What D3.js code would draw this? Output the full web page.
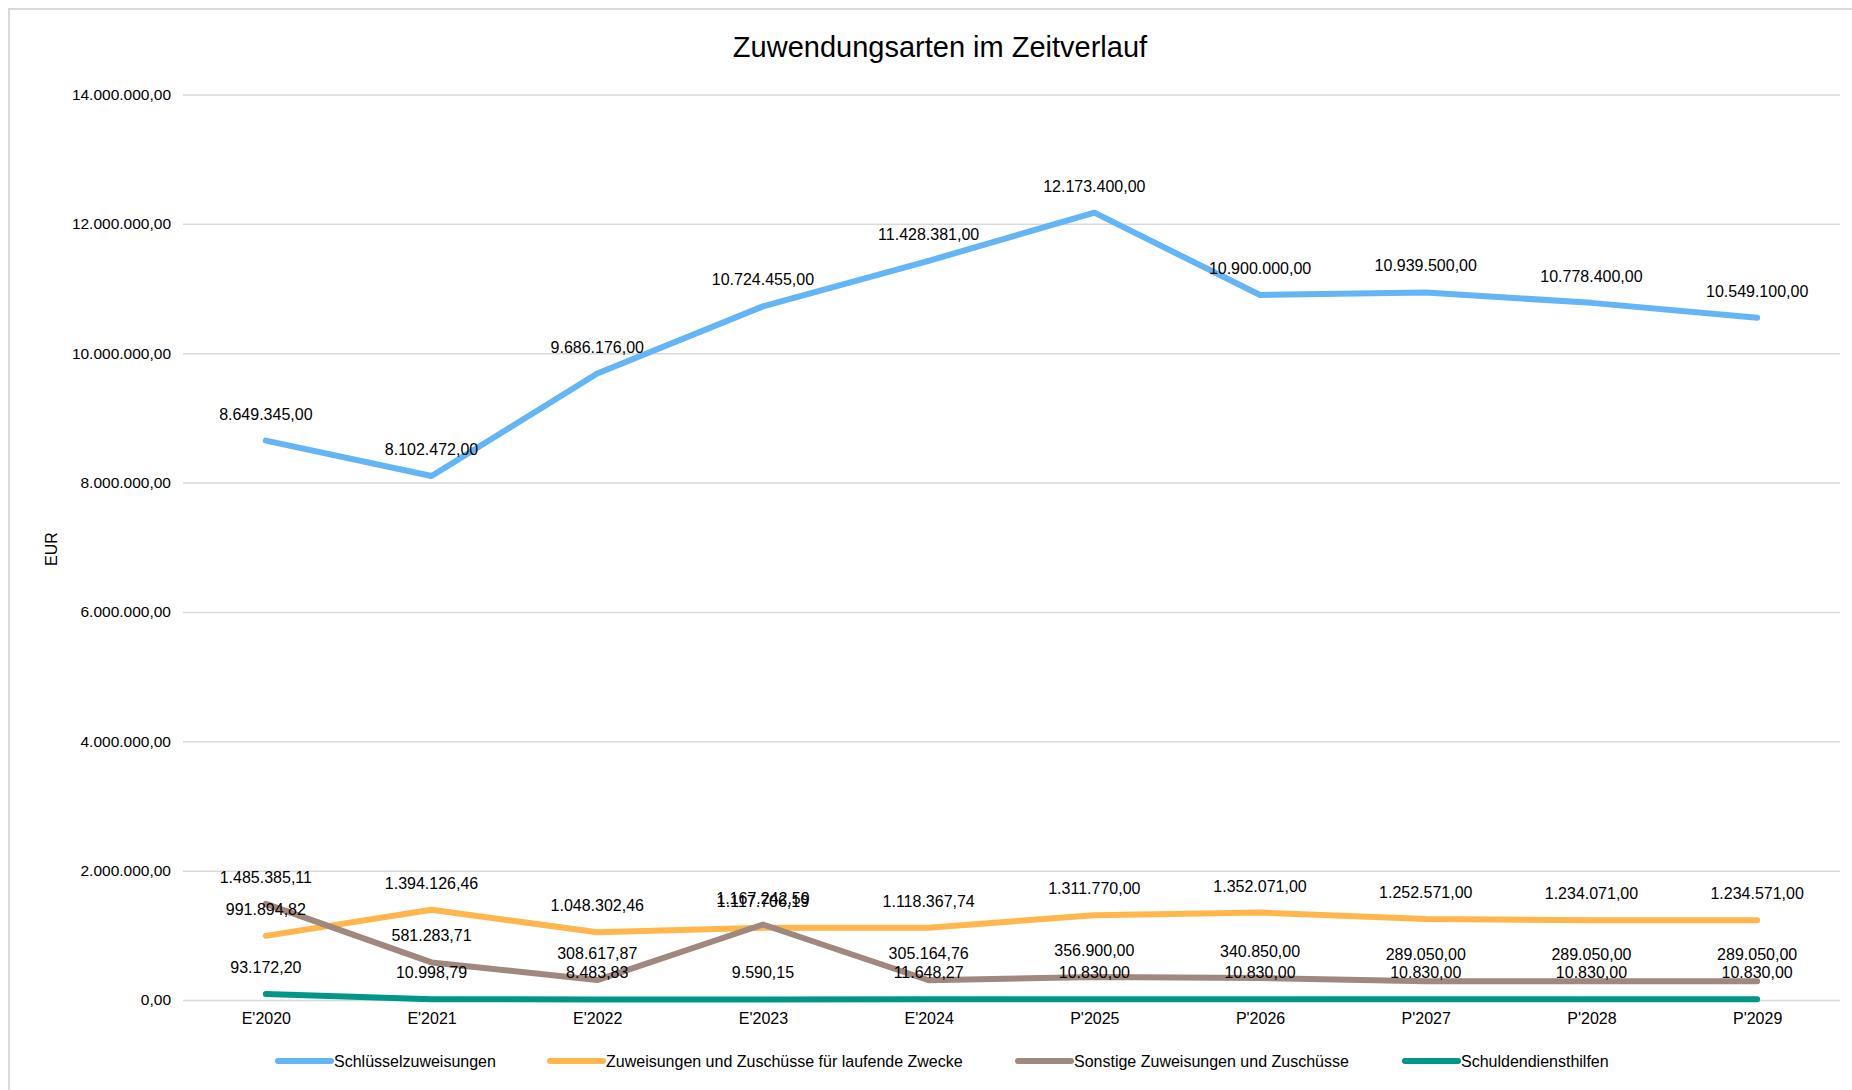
<!DOCTYPE html>
<html>
<head>
<meta charset="utf-8">
<script src="https://cdn.jsdelivr.net/npm/d3@7"></script>
<style>
  body { margin: 0; background: #fff; }
  text { font-family: "Liberation Sans", Arial, sans-serif; fill: #000; }
</style>
</head>
<body>
<div class="chart"></div>
<script>
// categories and series
const categories = ["E'2020", "E'2021", "E'2022", "E'2023", "E'2024", "P'2025", "P'2026", "P'2027", "P'2028", "P'2029"];
const seriesNames = ["Schlüsselzuweisungen", "Zuweisungen und Zuschüsse für laufende Zwecke", "Sonstige Zuweisungen und Zuschüsse", "Schuldendiensthilfen"];
const schluessel = [8649345.00, 8102472.00, 9686176.00, 10724455.00, 11428381.00, 12173400.00, 10900000.00, 10939500.00, 10778400.00, 10549100.00];
const laufend = [991894.82, 1394126.46, 1048302.46, 1117706.19, 1118367.74, 1311770.00, 1352071.00, 1252571.00, 1234071.00, 1234571.00];
const sonstige = [1485385.11, 581283.71, 308617.87, 1167242.59, 305164.76, 356900.00, 340850.00, 289050.00, 289050.00, 289050.00];
const schulden = [93172.20, 10998.79, 8483.83, 9590.15, 11648.27, 10830.00, 10830.00, 10830.00, 10830.00, 10830.00];
const yTicks = [0, 2000000, 4000000, 6000000, 8000000, 10000000, 12000000, 14000000];
const colors = ["#64B5F6", "#FFB74D", "#A1887F", "#009688"];

const allSeries = [schluessel, laufend, sonstige, schulden];

const W = 1852, H = 1090;
const margin = ({top: 94.5, right: 12, bottom: 90, left: 183});

const svg = d3.select(".chart").append("svg")
    .attr("width", W).attr("height", H);

// outer frame
svg.append("rect")
    .attr("x", 9).attr("y", 9)
    .attr("width", 1870).attr("height", 1100)
    .attr("fill", "none")
    .attr("stroke", "#d9d9d9")
    .attr("stroke-width", 2);

const xScale = d3.scalePoint()
    .domain(categories)
    .range([margin.left, W - margin.right])
    .padding(0.5);

const yScale = d3.scaleLinear()
    .domain([0, 14000000])
    .range([H - margin.bottom, margin.top]);

const fmt = d3.formatLocale({decimal: ",", thousands: ".", grouping: [3], currency: ["", "€"]}).format(",.2f");

// gridlines + y ticks
const yAxis = d3.axisLeft(yScale)
    .tickValues(yTicks)
    .tickSize(-(W - margin.right - margin.left))
    .tickPadding(12)
    .tickFormat(fmt);

const gy = svg.append("g")
    .attr("transform", `translate(${margin.left},0)`)
    .call(yAxis);
gy.select(".domain").remove();
gy.selectAll(".tick line").attr("stroke", "#d9d9d9").attr("stroke-width", 1.5);
gy.selectAll(".tick text").attr("font-size", 15.5).attr("fill", "#000");

// x axis labels
const xAxis = d3.axisBottom(xScale).tickSize(0).tickPadding(13);
const gx = svg.append("g")
    .attr("transform", `translate(0,${H - margin.bottom})`)
    .call(xAxis);
gx.select(".domain").remove();
gx.selectAll(".tick text").attr("font-size", 16).attr("fill", "#000");

// lines
const line = d3.line()
    .x((d, i) => xScale(categories[i]))
    .y(d => yScale(d));

allSeries.forEach((s, k) => {
    svg.append("path")
        .datum(s)
        .attr("d", line)
        .attr("fill", "none")
        .attr("stroke", colors[k])
        .attr("stroke-width", 6)
        .attr("stroke-linecap", "round")
        .attr("stroke-linejoin", "round");
});

// data labels
allSeries.forEach((s, k) => {
    svg.append("g").selectAll("text")
        .data(s)
        .enter()
        .append("text")
        .attr("x", (d, i) => xScale(categories[i]))
        .attr("y", d => yScale(d) - 21)
        .attr("text-anchor", "middle")
        .attr("font-size", 16)
        .text(d => fmt(d));
});

// title
svg.append("text")
    .attr("x", 940).attr("y", 57)
    .attr("text-anchor", "middle")
    .attr("font-size", 29)
    .text("Zuwendungsarten im Zeitverlauf");

// y label
svg.append("text")
    .attr("transform", "translate(57,549) rotate(-90)")
    .attr("text-anchor", "middle")
    .attr("font-size", 16)
    .text("EUR");

// legend
const legendX = [278, 550, 1018, 1405];
const lg = svg.append("g").selectAll("g")
    .data(seriesNames)
    .enter()
    .append("g")
    .attr("transform", (d, i) => `translate(${legendX[i]},1061)`);
lg.append("line")
    .attr("x1", 0).attr("x2", 53)
    .attr("stroke", (d, i) => colors[i])
    .attr("stroke-width", 6)
    .attr("stroke-linecap", "round");
lg.append("text")
    .attr("x", 56).attr("y", 6)
    .attr("font-size", 16)
    .text(d => d);
</script>
</body>
</html>
